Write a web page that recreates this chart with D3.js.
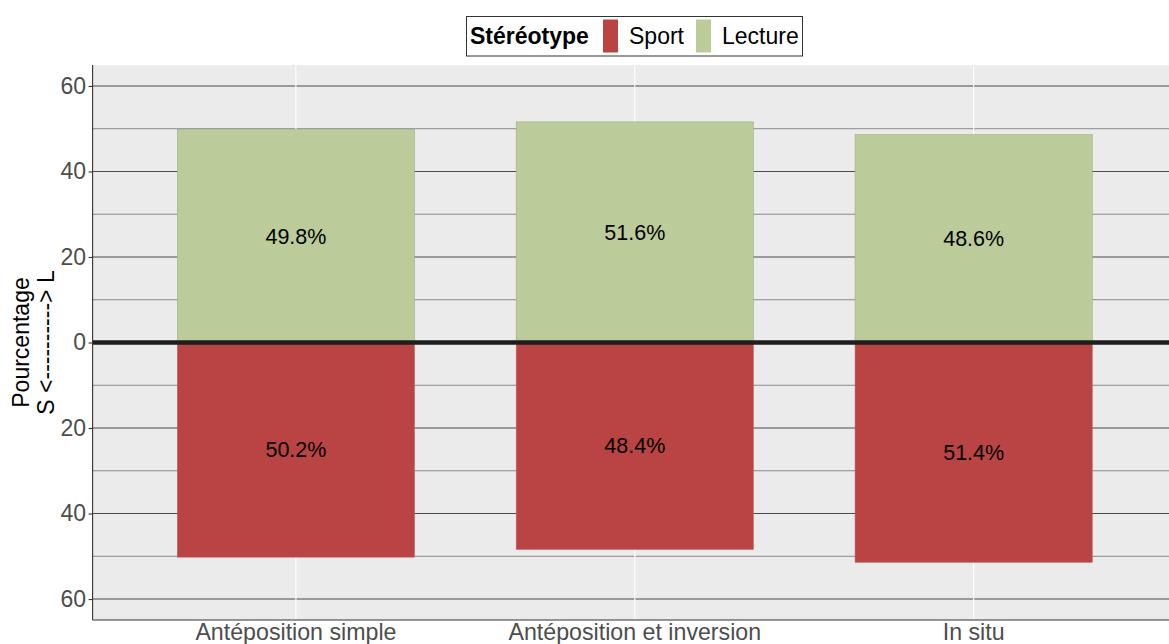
<!DOCTYPE html>
<html>
<head>
<meta charset="utf-8">
<script src="https://cdn.jsdelivr.net/npm/d3@7"></script>
<style>
  html, body { margin: 0; padding: 0; background: #fff; }
  svg { display: block; font-family: "Liberation Sans", Arial, sans-serif; }
</style>
</head>
<body>
<svg id="chart" width="1169" height="644"></svg>
<script>
// Categories and percentages per stereotype
const categories = ["Antéposition simple", "Antéposition et inversion", "In situ"];
const sportValues = [50.2, 48.4, 51.4];
const lectureValues = [49.8, 51.6, 48.6];
const majorTicks = [-60, -40, -20, 0, 20, 40, 60];
const minorTicks = [-50, -30, -10, 10, 30, 50];
const legendLabels = ["Sport", "Lecture"];
const colors = { Sport: "#BA4443", Lecture: "#BCCB9A" };

const svg = d3.select("#chart");
const panel = { left: 92.6, right: 1177, top: 65, bottom: 620 };

const x = d3.scaleBand()
  .domain(categories)
  .range([panel.left, panel.right])
  .paddingInner(0.3)
  .paddingOuter(0.25);

const y = d3.scaleLinear()
  .domain([-64.9, 64.9])
  .range([panel.bottom, panel.top]);

// panel background
svg.append("rect")
  .attr("x", panel.left).attr("y", panel.top)
  .attr("width", panel.right - panel.left)
  .attr("height", panel.bottom - panel.top)
  .attr("fill", "#EBEBEB");

// minor gridlines
svg.append("g").selectAll("line").data(minorTicks).join("line")
  .attr("x1", panel.left).attr("x2", panel.right)
  .attr("y1", d => y(d)).attr("y2", d => y(d))
  .attr("stroke", "#8a8a8a").attr("stroke-width", 1);

// major gridlines
svg.append("g").selectAll("line").data(majorTicks.filter(d => d !== 0)).join("line")
  .attr("x1", panel.left).attr("x2", panel.right)
  .attr("y1", d => y(d)).attr("y2", d => y(d))
  .attr("stroke", "#4a4a4a").attr("stroke-width", 1.1);

// vertical gridlines
svg.append("g").selectAll("line").data(categories).join("line")
  .attr("x1", d => x(d) + x.bandwidth() / 2).attr("x2", d => x(d) + x.bandwidth() / 2)
  .attr("y1", panel.top).attr("y2", panel.bottom)
  .attr("stroke", "#ffffff").attr("stroke-width", 1.1);

// bars
const rows = categories.map((c, i) => ({ cat: c, sport: sportValues[i], lecture: lectureValues[i] }));

svg.append("g").selectAll("rect").data(rows).join("rect")
  .attr("x", d => x(d.cat)).attr("width", x.bandwidth())
  .attr("y", d => y(d.lecture)).attr("height", d => y(0) - y(d.lecture))
  .attr("fill", colors.Lecture)
  .attr("stroke", "#9fb07f").attr("stroke-width", 0.6);

svg.append("g").selectAll("rect").data(rows).join("rect")
  .attr("x", d => x(d.cat)).attr("width", x.bandwidth())
  .attr("y", y(0)).attr("height", d => y(-d.sport) - y(0))
  .attr("fill", colors.Sport)
  .attr("stroke", "#c45a59").attr("stroke-width", 0.5);

// value labels at the middle of each bar
const labelG = svg.append("g")
  .attr("font-size", "21.5px").attr("fill", "#000").attr("text-anchor", "middle");
labelG.selectAll("text.l").data(rows).join("text").attr("class", "l")
  .attr("x", d => x(d.cat) + x.bandwidth() / 2)
  .attr("y", d => y(d.lecture / 2)).attr("dy", "0.35em")
  .text(d => d.lecture.toFixed(1) + "%");
labelG.selectAll("text.s").data(rows).join("text").attr("class", "s")
  .attr("x", d => x(d.cat) + x.bandwidth() / 2)
  .attr("y", d => y(-d.sport / 2)).attr("dy", "0.35em")
  .text(d => d.sport.toFixed(1) + "%");

// zero line
svg.append("line")
  .attr("x1", panel.left).attr("x2", panel.right)
  .attr("y1", y(0)).attr("y2", y(0))
  .attr("stroke", "#1e1e1e").attr("stroke-width", 4.5);

// y axis
const yAxis = d3.axisLeft(y).tickValues(majorTicks).tickSize(4).tickPadding(2.5)
  .tickFormat(d => Math.abs(d));
const gy = svg.append("g").attr("transform", `translate(${panel.left},0)`).call(yAxis);
gy.select(".domain").attr("stroke", "#333").attr("stroke-width", 1.1)
  .attr("d", `M0,${panel.top}V${panel.bottom}`);
gy.selectAll(".tick line").attr("stroke", "#333").attr("stroke-width", 1.1);
gy.selectAll(".tick text").attr("fill", "#4D4D4D")
  .attr("font-size", "23px").attr("font-family", "Liberation Sans, Arial, sans-serif");

// x axis
const xAxis = d3.axisBottom(x).tickSize(0).tickPadding(3);
const gx = svg.append("g").attr("transform", `translate(0,${panel.bottom})`).call(xAxis);
gx.select(".domain").attr("stroke", "#333").attr("stroke-width", 1.1)
  .attr("d", `M${panel.left},0H${panel.right}`);
gx.selectAll(".tick text").attr("fill", "#4D4D4D")
  .attr("font-size", "23.2px").attr("font-family", "Liberation Sans, Arial, sans-serif")
  .attr("dy", "0.72em");

// y axis title (two lines)
const yTitle = svg.append("text")
  .attr("transform", `translate(0,${y(0)}) rotate(-90)`)
  .attr("text-anchor", "middle").attr("font-size", "23px").attr("fill", "#000");
yTitle.append("tspan").attr("x", 0).attr("y", 29).text("Pourcentage");
yTitle.append("tspan").attr("x", 0).attr("y", 54).text("S <----------> L");

// legend
const lg = svg.append("g");
lg.append("rect").attr("x", 466.5).attr("y", 16.5).attr("width", 336).attr("height", 39.5)
  .attr("fill", "#fff").attr("stroke", "#333").attr("stroke-width", 1);
lg.append("text").attr("x", 470).attr("y", 44).attr("font-size", "23px")
  .attr("font-weight", "bold").attr("fill", "#000").text("Stéréotype");
const keyX = [603, 696];
const textX = [629, 722];
legendLabels.forEach((k, i) => {
  lg.append("rect").attr("x", keyX[i]).attr("y", 19.5).attr("width", 15).attr("height", 33)
    .attr("fill", colors[k]);
  lg.append("text").attr("x", textX[i]).attr("y", 44).attr("font-size", "23px")
    .attr("fill", "#000").text(k);
});
</script>
</body>
</html>
